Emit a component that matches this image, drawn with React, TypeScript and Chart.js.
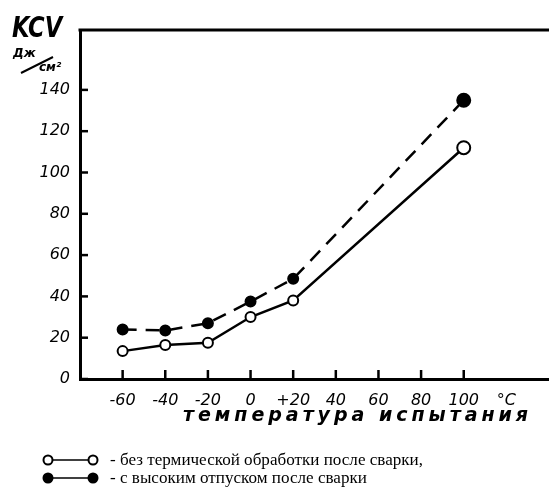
import React, { useEffect, useRef } from 'react';
import { Chart, registerables } from 'chart.js';

Chart.register(...registerables);

// ---- data ----
const temperatures = [-60, -40, -20, 0, 20, 100];
const seriesNoTreatment = [13.5, 16.5, 17.5, 30, 38, 112];
const seriesTempered = [24, 23.5, 27, 37.5, 48.5, 135];
const yTickValues = [0, 20, 40, 60, 80, 100, 120, 140];
const xTickValues = [-60, -40, -20, 0, 20, 40, 60, 80, 100];
const unitTickValue = 120;
const unitLabel = '°C';
const yTitle = 'KCV';
const yUnitTop = 'Дж';
const yUnitBottom = 'см²';
const xTitle = 'температура испытания';
const seriesLabels = [
  '- без термической обработки после сварки,',
  '- с высоким отпуском после сварки',
];

const W = 549;
const H = 492;
const HAND = "'DejaVu Sans'";

function spacedText(ctx: any, text: string, x: number, y: number, targetW: number) {
  const natural = ctx.measureText(text).width;
  const sp = (targetW - natural) / (text.length - 1);
  let cx = x;
  for (const ch of text) {
    ctx.fillText(ch, cx, y);
    cx += ctx.measureText(ch).width + sp;
  }
}

const decorPlugin = {
  id: 'decor',
  afterDraw(chart: any) {
    const { ctx, chartArea } = chart;
    const xs = chart.scales.x;
    const ys = chart.scales.y;
    ctx.save();
    ctx.strokeStyle = '#000';
    ctx.fillStyle = '#000';
    // top frame line
    ctx.lineWidth = 3;
    ctx.beginPath();
    ctx.moveTo(chartArea.left - 1.5, chartArea.top);
    ctx.lineTo(chartArea.right, chartArea.top);
    ctx.stroke();
    // inward ticks
    ctx.lineWidth = 2.5;
    for (const v of yTickValues) {
      const y = ys.getPixelForValue(v);
      ctx.beginPath();
      ctx.moveTo(chartArea.left, y);
      ctx.lineTo(chartArea.left + 8, y);
      ctx.stroke();
    }
    for (const v of xTickValues) {
      const x = xs.getPixelForValue(v);
      ctx.beginPath();
      ctx.moveTo(x, chartArea.bottom);
      ctx.lineTo(x, chartArea.bottom - 9);
      ctx.stroke();
    }
    // Y title
    ctx.textAlign = 'left';
    ctx.textBaseline = 'alphabetic';
    ctx.save();
    ctx.translate(12, 37);
    ctx.scale(0.78, 1);
    ctx.font = `italic bold 29px ${HAND}`;
    ctx.fillText(yTitle, 0, 0);
    ctx.restore();
    ctx.font = `italic bold 12px ${HAND}`;
    ctx.fillText(yUnitTop, 13, 57);
    ctx.fillText(yUnitBottom, 39, 71);
    ctx.lineWidth = 2;
    ctx.beginPath();
    ctx.moveTo(21, 73);
    ctx.lineTo(53, 57);
    ctx.stroke();
    // X title with letter spacing
    ctx.font = `italic bold 19px ${HAND}`;
    spacedText(ctx, xTitle, 183, 421, 345);
    // legend
    ctx.font = "17px 'Liberation Serif'";
    const sx = 313 / ctx.measureText(seriesLabels[0]).width;
    const rows = [
      { y: 460, filled: false },
      { y: 478, filled: true },
    ];
    rows.forEach((r, i) => {
      ctx.lineWidth = 1.5;
      ctx.beginPath();
      ctx.moveTo(48, r.y);
      ctx.lineTo(93, r.y);
      ctx.stroke();
      for (const px of [48, 93]) {
        ctx.beginPath();
        ctx.arc(px, r.y, 4.5, 0, Math.PI * 2);
        ctx.fillStyle = r.filled ? '#000' : '#fff';
        ctx.fill();
        ctx.lineWidth = 2;
        ctx.stroke();
      }
      ctx.fillStyle = '#000';
      ctx.textBaseline = 'middle';
      ctx.save();
      ctx.translate(110, r.y + 1);
      ctx.scale(sx, 1);
      ctx.fillText(seriesLabels[i], 0, 0);
      ctx.restore();
    });
    ctx.restore();
  },
};

export default function App() {
  const ref = useRef<HTMLCanvasElement>(null);
  useEffect(() => {
    if (!ref.current) return;
    const mk = (vals: number[]) => temperatures.map((t, i) => ({ x: t, y: vals[i] }));
    const radii = temperatures.map((t) => (t === 100 ? 6.5 : 5));
    const chart = new Chart(ref.current, {
      type: 'line',
      data: {
        datasets: [
          {
            label: seriesLabels[0],
            data: mk(seriesNoTreatment),
            borderColor: '#000',
            borderWidth: 2.5,
            pointRadius: radii,
            pointBackgroundColor: '#fff',
            pointBorderColor: '#000',
            pointBorderWidth: 2,
            tension: 0,
          },
          {
            label: seriesLabels[1],
            data: mk(seriesTempered),
            borderColor: '#000',
            borderWidth: 2.5,
            borderDash: [14, 9],
            pointRadius: radii,
            pointBackgroundColor: '#000',
            pointBorderColor: '#000',
            pointBorderWidth: 2,
            tension: 0,
          },
        ],
      },
      options: {
        animation: false,
        responsive: false,
        layout: { autoPadding: false, padding: { top: 30, right: 0, left: 0, bottom: 0 } },
        plugins: { legend: { display: false }, tooltip: { enabled: false } },
        scales: {
          x: {
            type: 'linear',
            min: -80,
            max: 140,
            grid: { display: false, drawTicks: false },
            border: { display: true, width: 3, color: '#000' },
            afterBuildTicks: (s: any) => {
              s.ticks = [...xTickValues, unitTickValue].map((v) => ({ value: v }));
            },
            afterFit: (s: any) => {
              s.height = 113;
              s.paddingLeft = 0;
              s.paddingRight = 0;
            },
            ticks: {
              color: '#000',
              padding: 12,
              maxRotation: 0,
              autoSkip: false,
              font: { family: 'DejaVu Sans', style: 'italic', size: 16 },
              callback: (v: any) =>
                v === unitTickValue ? unitLabel : v > 0 && v === 20 ? '+20' : String(v),
            },
          },
          y: {
            min: 0,
            max: 169,
            grid: { display: false, drawTicks: false },
            border: { display: true, width: 3, color: '#000' },
            afterBuildTicks: (s: any) => {
              s.ticks = yTickValues.map((v) => ({ value: v }));
            },
            afterFit: (s: any) => {
              s.width = 80;
              s.paddingTop = 0;
              s.paddingBottom = 0;
            },
            ticks: {
              color: '#000',
              padding: 10,
              font: { family: 'DejaVu Sans', style: 'italic', size: 16 },
            },
          },
        },
      },
      plugins: [decorPlugin],
    });
    return () => chart.destroy();
  }, []);
  return (
    <canvas
      ref={ref}
      width={W}
      height={H}
      style={{ position: 'fixed', left: 0, top: 0, width: W, height: H, background: '#fff' }}
    />
  );
}
